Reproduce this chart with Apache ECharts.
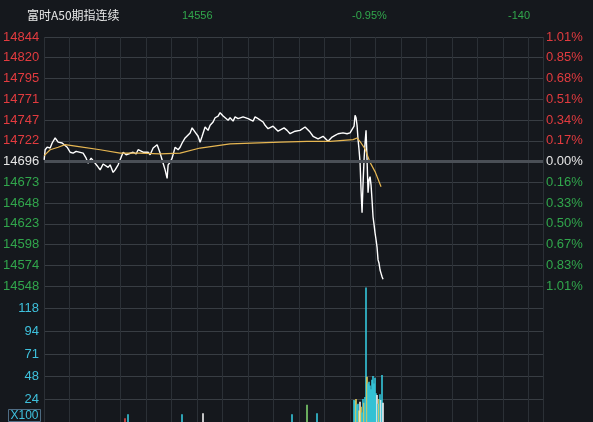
<!DOCTYPE html>
<html>
<head>
<meta charset="utf-8">
<script src="https://cdn.jsdelivr.net/npm/echarts@6/dist/echarts.min.js"></script>
<style>
  html, body { margin: 0; padding: 0; background: #15181d; }
  #chart { width: 593px; height: 422px; }
</style>
</head>
<body>
<div id="chart"></div>
<script>
const title = '富时A50期指连续';
const prevClose = 14696;

// tick labels
const priceLabels = ['14548', '14574', '14598', '14623', '14648', '14673', '14696', '14722', '14747', '14771', '14795', '14820', '14844'];
const pctLabels = ['1.01%', '0.83%', '0.67%', '0.50%', '0.33%', '0.16%', '0.00%', '0.17%', '0.34%', '0.51%', '0.68%', '0.85%', '1.01%'];
const volLabels = ['', '24', '48', '71', '94', '118', ''];

// trade price (minute index, price)
const tradeMin = [0, 1, 3, 6, 8, 11, 14, 18, 23, 26, 29, 32, 34, 39, 42, 44, 47, 49, 53, 56, 59, 61, 64, 66, 69, 71, 74, 76, 79, 82, 84, 89, 92, 94, 99, 104, 106, 109, 113, 116, 119, 121, 123, 124, 126, 128, 131, 134, 136, 138, 141, 143, 146, 148, 151, 154, 156, 158, 161, 164, 166, 169, 171, 174, 176, 179, 181, 184, 186, 189, 191, 194, 196, 199, 201, 204, 206, 209, 211, 214, 216, 219, 221, 224, 226, 229, 231, 234, 236, 240, 243, 246, 248, 251, 253, 256, 258, 261, 263, 266, 269, 271, 274, 276, 279, 281, 284, 286, 288, 291, 294, 296, 299, 303, 306, 308, 310, 311, 312, 313, 314, 315, 316, 317, 318, 319, 320, 321, 322, 323, 324, 325, 326, 327, 328, 329, 330, 331, 332, 333, 334, 335, 336, 337, 338, 339];
const tradePrice = [14698, 14710, 14713, 14712, 14718, 14724, 14719, 14718, 14713, 14707, 14706, 14708, 14707, 14706, 14700, 14694, 14700, 14698, 14691, 14686, 14693, 14695, 14689, 14692, 14683, 14686, 14692, 14698, 14707, 14704, 14706, 14707, 14705, 14710, 14707, 14707, 14704, 14712, 14716, 14706, 14694, 14686, 14676, 14692, 14695, 14700, 14713, 14710, 14713, 14718, 14724, 14725, 14730, 14736, 14731, 14726, 14719, 14726, 14737, 14733, 14739, 14743, 14748, 14750, 14754, 14750, 14749, 14745, 14748, 14744, 14749, 14747, 14745, 14749, 14751, 14747, 14748, 14744, 14749, 14747, 14745, 14743, 14739, 14735, 14733, 14738, 14736, 14732, 14731, 14736, 14733, 14729, 14727, 14732, 14730, 14733, 14733, 14737, 14736, 14731, 14726, 14724, 14723, 14724, 14726, 14725, 14720, 14719, 14725, 14727, 14729, 14729, 14730, 14729, 14730, 14730, 14738, 14751, 14748, 14739, 14722, 14710, 14695, 14662, 14635, 14670, 14698, 14718, 14733, 14698, 14659, 14674, 14678, 14668, 14650, 14630, 14621, 14611, 14603, 14594, 14579, 14575, 14567, 14563, 14559, 14556];

// average price
const avgMin = [0, 6, 14, 21, 33, 56, 76, 96, 116, 136, 156, 186, 236, 263, 286, 309, 313, 317, 321, 326, 331, 337];
const avgPrice = [14703, 14710, 14713, 14716, 14714, 14710, 14706, 14706, 14705, 14706, 14712, 14717, 14719, 14720, 14720, 14722, 14724, 14718, 14711, 14695, 14684, 14666];

// volume (x100), side: b = buy, s = sell, n = neutral
const volMin = [81, 84, 138, 159, 248, 263, 273, 310, 311, 312, 313, 314, 315, 316, 317, 318, 319, 320, 321, 322, 323, 324, 325, 326, 327, 328, 329, 330, 331, 332, 333, 334, 335, 336, 337, 338, 339];
const volQty = [4, 8, 8, 9, 8, 18, 9, 23, 22, 24, 18, 19, 12, 21, 16, 10, 24, 20, 26, 140, 47, 40, 42, 38, 34, 44, 48, 40, 46, 30, 28, 19, 24, 29, 23, 49, 20];
const volSide = ['r', 's', 's', 'n', 's', 'g', 's', 's', 's', 'b', 's', 's', 'b', 'n', 'b', 's', 's', 'b', 's', 's', 'b', 's', 's', 's', 's', 's', 's', 's', 's', 's', 'n', 's', 'b', 's', 'n', 's', 'n'];

const sideColor = { s: '#35c8dc', b: '#e3cf5c', n: '#f0f0f0', g: '#7fd36e', r: '#e04a4a' };
const step = 148 / 6;
const volStep = 23.6;

const red = '#e23b3f', green = '#31a64c', white = '#e6e6e6', cyan = '#3ec0dc';
const gridColor = '#383d43';
const vGridColor = '#2b3036';

const lastPrice = tradePrice[tradePrice.length - 1];
const change = lastPrice - prevClose;
const changePct = (change / prevClose * 100).toFixed(2) + '%';

function levelColor(v) {
    if (Math.abs(v) < 1e-6) return white;
    return v > 0 ? red : green;
}
function tickIndex(v) {
    return Math.round(v / step) + 6;
}

const chart = echarts.init(document.getElementById('chart'));

const option = {
    backgroundColor: '#15181d',
    animation: false,
    textStyle: { fontFamily: 'Liberation Sans, Arial, sans-serif' },
    graphic: [
        { type: 'text', left: 27, top: 9, style: { text: title, fill: '#e8e8e8', font: '12px "Noto Sans CJK SC"' } },
        { type: 'text', left: 182, top: 10, style: { text: String(lastPrice), fill: green, font: '11px "Liberation Sans"' } },
        { type: 'text', left: 352, top: 10, style: { text: changePct, fill: green, font: '11px "Liberation Sans"' } },
        { type: 'text', left: 508, top: 10, style: { text: String(change), fill: green, font: '11px "Liberation Sans"' } },
        {
            type: 'text', left: 8, bottom: 0,
            style: {
                text: 'X100', fill: cyan, font: '12px "Liberation Sans"',
                borderColor: '#4f6d85', borderWidth: 1, padding: [0, 2, 0, 2]
            }
        }
    ],
    grid: [
        { left: 44, right: 50, top: 37, height: 249 },
        { left: 44, right: 50, top: 286, height: 140 }
    ],
    xAxis: [
        {
            type: 'value', gridIndex: 0, min: 0, max: 499, interval: 25.5,
            axisLine: { show: false }, axisTick: { show: false }, axisLabel: { show: false },
            splitLine: { show: true, lineStyle: { color: vGridColor, width: 1 } }
        },
        {
            type: 'value', gridIndex: 1, min: 0, max: 499, interval: 25.5,
            axisLine: { show: false }, axisTick: { show: false }, axisLabel: { show: false },
            splitLine: { show: true, lineStyle: { color: vGridColor, width: 1 } }
        }
    ],
    yAxis: [
        {
            type: 'value', gridIndex: 0, position: 'left', min: -148, max: 148, interval: step,
            axisLine: { show: false }, axisTick: { show: false },
            splitLine: { show: true, lineStyle: { color: gridColor, width: 1 } },
            axisLabel: {
                margin: 5, fontSize: 13,
                formatter: v => priceLabels[tickIndex(v)],
                color: v => levelColor(v)
            }
        },
        {
            type: 'value', gridIndex: 0, position: 'right', min: -148, max: 148, interval: step,
            axisLine: { show: false }, axisTick: { show: false }, splitLine: { show: false },
            axisLabel: {
                margin: 3, fontSize: 13,
                formatter: v => pctLabels[tickIndex(v)],
                color: v => levelColor(v)
            }
        },
        {
            type: 'value', gridIndex: 1, position: 'left', min: 0, max: volStep * 6, interval: volStep,
            axisLine: { show: false }, axisTick: { show: false },
            splitLine: { show: true, lineStyle: { color: gridColor, width: 1 } },
            axisLabel: {
                margin: 5, fontSize: 13, color: cyan,
                formatter: v => volLabels[Math.round(v / volStep)] || ''
            }
        }
    ],
    series: [
        {
            name: '价格', type: 'line', xAxisIndex: 0, yAxisIndex: 0,
            data: tradeMin.map((m, i) => [m, tradePrice[i] - prevClose]),
            showSymbol: false, symbol: 'none',
            lineStyle: { color: '#ffffff', width: 1.4 },
            markLine: {
                silent: true, symbol: 'none', label: { show: false },
                lineStyle: { color: '#4a4f56', width: 3, type: 'solid' },
                data: [{ yAxis: 0 }]
            },
            z: 3
        },
        {
            name: '均价', type: 'line', xAxisIndex: 0, yAxisIndex: 0,
            data: avgMin.map((m, i) => [m, avgPrice[i] - prevClose]),
            showSymbol: false, symbol: 'none',
            lineStyle: { color: '#e6b652', width: 1.2 },
            z: 4
        },
        {
            name: '成交量', type: 'bar', xAxisIndex: 1, yAxisIndex: 2,
            barWidth: 1.6,
            data: volMin.map((m, i) => ({
                value: [m, volQty[i]],
                itemStyle: { color: sideColor[volSide[i]] }
            }))
        }
    ]
};

chart.setOption(option);
</script>
</body>
</html>
